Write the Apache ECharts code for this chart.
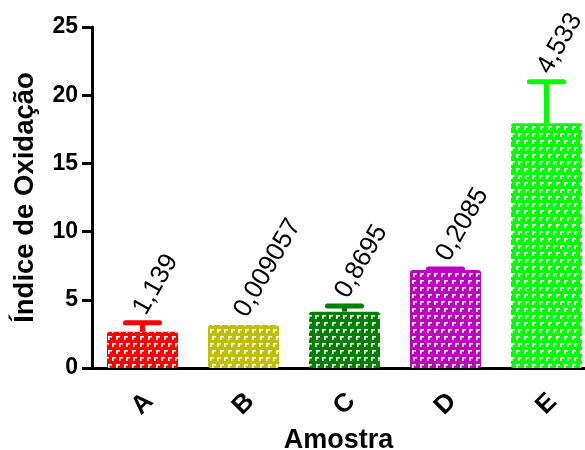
<!DOCTYPE html>
<html>
<head>
<meta charset="utf-8">
<script src="https://cdn.jsdelivr.net/npm/echarts@6/dist/echarts.min.js"></script>
<style>
html,body{margin:0;padding:0;background:#fff;}
#chart{width:585px;height:450px;}
</style>
</head>
<body>
<div id="chart"></div>
<script>
var categories = ['A', 'B', 'C', 'D', 'E'];
var means = [2.66, 3.15, 4.13, 7.18, 17.94];
var errors = [0.66, 0, 0.42, 0.08, 3.05];
var annotations = ['1,139', '0,009057', '0,8695', '0,2085', '4,533'];
var colors = ['#ff0000', '#bfbf00', '#008000', '#c000c0', '#00ff00'];
var yTicks = [0, 5, 10, 15, 20, 25];

var FONT = '"Liberation Sans", Arial, sans-serif';

var decal = {
  symbol: 'path://M0,0 L4,0 L4,1.6 L1.6,1.6 L1.6,4 L0,4 Z',
  symbolSize: 1,
  dashArrayX: [[4, 3], [0, 3.5, 4, 0]],
  dashArrayY: [4, 3],
  color: '#ffffff',
  rotation: 0
};

var barData = means.map(function (v, i) {
  return {
    value: v,
    itemStyle: { color: colors[i], decal: decal, borderRadius: [3, 3, 2, 2] }
  };
});

var errData = means.map(function (v, i) { return [i, v, errors[i]]; });

var chart = echarts.init(document.getElementById('chart'), null, { renderer: 'canvas' });
chart.setOption({
  animation: false,
  backgroundColor: '#ffffff',
  grid: { left: 92, width: 505, top: 27, height: 341, containLabel: false, outerBoundsMode: 'none' },
  xAxis: {
    type: 'category',
    data: categories,
    name: 'Amostra',
    nameLocation: 'middle',
    nameGap: 56,
    nameTextStyle: { fontFamily: FONT, fontWeight: 'bold', fontSize: 27, color: '#000', padding: [0, 12, 0, 0] },
    axisLine: { lineStyle: { color: '#000', width: 3 } },
    axisTick: { alignWithLabel: true, length: 10, lineStyle: { color: '#000', width: 3 } },
    axisLabel: { rotate: 45, margin: 36, align: 'center', verticalAlign: 'middle', fontFamily: FONT, fontWeight: 'bold', fontSize: 26, color: '#000' }
  },
  yAxis: {
    type: 'value',
    min: 0,
    max: 25,
    interval: 5,
    name: 'Índice de Oxidação',
    nameLocation: 'middle',
    nameGap: 53,
    nameTextStyle: { fontFamily: FONT, fontWeight: 'bold', fontSize: 27.5, color: '#000' },
    splitLine: { show: false },
    axisLine: { show: true, lineStyle: { color: '#000', width: 3 } },
    axisTick: { show: true, length: 10, lineStyle: { color: '#000', width: 3 } },
    axisLabel: {
      margin: 14, fontFamily: FONT, fontWeight: 'bold', fontSize: 23, color: '#000',
      formatter: function (v) { return yTicks.indexOf(v) >= 0 ? String(v) : ''; }
    }
  },
  series: [
    {
      type: 'bar',
      data: barData,
      barWidth: 71,
      z: 2
    },
    {
      type: 'custom',
      data: errData,
      z: 3,
      renderItem: function (params, api) {
        var i = api.value(0);
        var m = api.value(1);
        var e = api.value(2);
        var base = api.coord([i, m]);
        var top = api.coord([i, m + e]);
        var col = colors[params.dataIndex];
        var children = [];
        if (e > 0) {
          children.push({
            type: 'line',
            shape: { x1: base[0], y1: base[1], x2: top[0], y2: top[1] },
            style: { stroke: col, lineWidth: 5 }
          });
          children.push({
            type: 'line',
            shape: { x1: top[0] - 17, y1: top[1], x2: top[0] + 17, y2: top[1] },
            style: { stroke: col, lineWidth: 5, lineCap: 'round' }
          });
        }
        children.push({
          type: 'text',
          x: top[0] - 3,
          y: top[1] - 10,
          rotation: Math.PI / 3,
          style: {
            text: annotations[params.dataIndex],
            font: '26px ' + FONT,
            fill: '#000',
            align: 'left',
            verticalAlign: 'middle'
          }
        });
        return { type: 'group', children: children };
      }
    }
  ]
});
</script>
</body>
</html>
